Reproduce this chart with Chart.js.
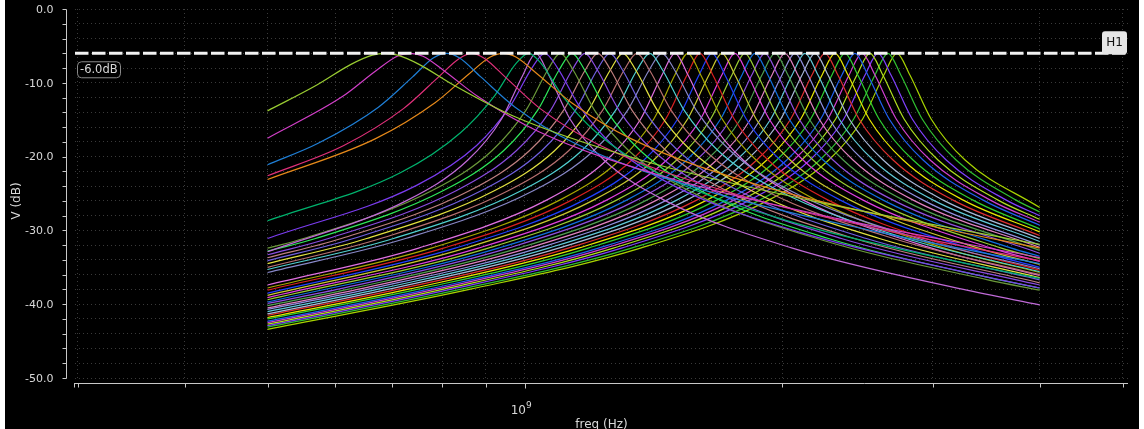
<!DOCTYPE html>
<html>
<head>
<meta charset="utf-8">
<script src="https://cdn.jsdelivr.net/npm/chart.js@4.4.1/dist/chart.umd.min.js"></script>
<style>
  body { margin: 0; background: #fff; }
  #wave { position: absolute; left: 5px; top: 0; }
</style>
</head>
<body>
<canvas id="wave" width="1134" height="429"></canvas>
<script>
// axis ranges / ticks
const xMinHz = 2.977e8;
const xMaxHz = 5.074e9;
const xGridHz = [3e8, 4e8, 5e8, 6e8, 7e8, 8e8, 9e8, 1e9, 2e9, 3e9, 4e9, 5e9];
const xLabelHz = 1e9;
const yMinDb = -50;
const yMaxDb = 0;
const markerDb = -6.0;
const markerName = 'H1';

// traces: [freq GHz, V dB]
const traces = [
  [[0.5,-13.8],[0.571,-10.3],[0.626,-7.5],[0.663,-6.25],[0.686,-6],[0.710,-6.25],[0.752,-7.5],[0.825,-10.3],[0.969,-14.5],[1.369,-20.5],[2.169,-26.0],[4,-31.9]],
  [[0.5,-17.5],[0.611,-11.9],[0.669,-8.4],[0.709,-6.4],[0.734,-6],[0.760,-6.4],[0.805,-8.4],[0.882,-11.9],[1.037,-16.6],[1.464,-22.8],[2.321,-28.4],[4,-33.7]],
  [[0.5,-21.1],[0.573,-18.2],[0.674,-13.3],[0.739,-9.2],[0.782,-6.6],[0.81,-6],[0.838,-6.6],[0.888,-9.2],[0.974,-13.3],[1.144,-18.2],[1.616,-24.5],[2.561,-30.1],[4,-34.5]],
  [[0.5,-22.6],[0.614,-18.5],[0.721,-13.5],[0.791,-9.3],[0.838,-6.7],[0.867,-6],[0.897,-6.7],[0.950,-9.3],[1.042,-13.5],[1.225,-18.5],[1.730,-24.8],[2.742,-30.4],[4,-34.1]],
  [[0.5,-23.1],[0.668,-17.6],[0.785,-12.7],[0.860,-8.8],[0.911,-6.5],[0.943,-6],[0.976,-6.5],[1.034,-8.8],[1.134,-12.7],[1.332,-17.6],[1.881,-23.9],[2.985,-29.4],[4,-32.4]],
  [[0.5,-28.7],[0.715,-22.2],[0.840,-16.8],[0.921,-11.8],[0.976,-7.4],[1.01,-6],[1.045,-7.4],[1.107,-11.8],[1.214,-16.8],[1.427,-22.2],[2.015,-28.6],[3.194,-34.2],[4,-36.5]],
  [[0.5,-32.9],[0.729,-25.9],[0.857,-20.5],[0.939,-14.9],[0.995,-8.9],[1.03,-6],[1.066,-8.9],[1.129,-14.9],[1.238,-20.5],[1.455,-25.9],[2.055,-32.4],[3.257,-38.0],[4,-40.1]],
  [[0.5,-31.1],[0.747,-23.9],[0.878,-18.5],[0.962,-13.1],[1.019,-8.0],[1.055,-6],[1.092,-8.0],[1.157,-13.1],[1.268,-18.5],[1.490,-23.9],[2.105,-30.3],[3.336,-35.9],[4,-37.8]],
  [[0.5,-32.4],[0.551,-31.1],[0.779,-24.6],[0.915,-19.2],[1.003,-13.7],[1.063,-8.3],[1.10,-6],[1.139,-8.3],[1.206,-13.7],[1.323,-19.2],[1.554,-24.6],[2.195,-31.1],[3.479,-36.7],[4,-38.1]],
  [[0.5,-32.8],[0.569,-31.1],[0.803,-24.6],[0.944,-19.2],[1.035,-13.7],[1.096,-8.3],[1.135,-6],[1.175,-8.3],[1.245,-13.7],[1.365,-19.2],[1.603,-24.6],[2.265,-31.1],[3.589,-36.7],[4,-37.8]],
  [[0.5,-33.3],[0.589,-31.1],[0.832,-24.6],[0.977,-19.2],[1.072,-13.7],[1.135,-8.3],[1.175,-6],[1.216,-8.3],[1.288,-13.7],[1.413,-19.2],[1.660,-24.6],[2.345,-31.1],[4,-37.4]],
  [[0.5,-33.7],[0.610,-31.1],[0.862,-24.6],[1.012,-19.2],[1.110,-13.7],[1.176,-8.3],[1.217,-6],[1.260,-8.3],[1.334,-13.7],[1.463,-19.2],[1.719,-24.6],[2.428,-31.1],[4,-37.1]],
  [[0.5,-34.1],[0.630,-31.1],[0.890,-24.6],[1.046,-19.2],[1.146,-13.7],[1.214,-8.3],[1.257,-6],[1.301,-8.3],[1.378,-13.7],[1.511,-19.2],[1.776,-24.6],[2.508,-31.1],[4,-36.7]],
  [[0.5,-34.5],[0.653,-31.1],[0.922,-24.6],[1.083,-19.2],[1.187,-13.7],[1.258,-8.3],[1.302,-6],[1.348,-8.3],[1.428,-13.7],[1.565,-19.2],[1.839,-24.6],[2.598,-31.1],[4,-36.4]],
  [[0.5,-35.0],[0.678,-31.1],[0.957,-24.6],[1.125,-19.2],[1.233,-13.7],[1.306,-8.3],[1.352,-6],[1.399,-8.3],[1.482,-13.7],[1.625,-19.2],[1.910,-24.6],[2.698,-31.1],[4,-36.0]],
  [[0.5,-35.3],[0.702,-31.1],[0.991,-24.6],[1.165,-19.2],[1.277,-13.7],[1.352,-8.3],[1.40,-6],[1.449,-8.3],[1.535,-13.7],[1.683,-19.2],[1.978,-24.6],[2.793,-31.1],[4,-35.6]],
  [[0.5,-35.7],[0.725,-31.1],[1.024,-24.6],[1.203,-19.2],[1.319,-13.7],[1.397,-8.3],[1.446,-6],[1.497,-8.3],[1.586,-13.7],[1.739,-19.2],[2.042,-24.6],[2.885,-31.1],[4,-35.2]],
  [[0.5,-37.4],[0.751,-32.4],[1.060,-25.9],[1.246,-20.5],[1.366,-14.9],[1.447,-8.9],[1.498,-6],[1.551,-8.9],[1.643,-14.9],[1.801,-20.5],[2.116,-25.9],[2.989,-32.4],[4,-36.1]],
  [[0.5,-37.8],[0.777,-32.4],[1.098,-25.9],[1.290,-20.5],[1.415,-14.9],[1.498,-8.9],[1.551,-6],[1.605,-8.9],[1.701,-14.9],[1.865,-20.5],[2.191,-25.9],[3.095,-32.4],[4,-35.7]],
  [[0.5,-38.1],[0.803,-32.4],[1.134,-25.9],[1.333,-20.5],[1.461,-14.9],[1.548,-8.9],[1.602,-6],[1.658,-8.9],[1.757,-14.9],[1.926,-20.5],[2.263,-25.9],[3.196,-32.4],[4,-35.4]],
  [[0.5,-38.5],[0.829,-32.4],[1.172,-25.9],[1.377,-20.5],[1.509,-14.9],[1.599,-8.9],[1.655,-6],[1.713,-8.9],[1.815,-14.9],[1.990,-20.5],[2.338,-25.9],[3.302,-32.4],[4,-35.0]],
  [[0.5,-38.8],[0.852,-32.4],[1.203,-25.9],[1.414,-20.5],[1.550,-14.9],[1.642,-8.9],[1.70,-6],[1.760,-8.9],[1.864,-14.9],[2.044,-20.5],[2.401,-25.9],[3.392,-32.4],[4,-34.6]],
  [[0.5,-39.1],[0.882,-32.4],[1.246,-25.9],[1.464,-20.5],[1.605,-14.9],[1.700,-8.9],[1.76,-6],[1.822,-8.9],[1.930,-14.9],[2.116,-20.5],[2.486,-25.9],[3.512,-32.4],[4,-34.2]],
  [[0.5,-39.4],[0.906,-32.4],[1.280,-25.9],[1.504,-20.5],[1.649,-14.9],[1.747,-8.9],[1.808,-6],[1.871,-8.9],[1.982,-14.9],[2.174,-20.5],[2.554,-25.9],[3.608,-32.4],[4,-33.8]],
  [[0.5,-39.7],[0.931,-32.4],[1.315,-25.9],[1.545,-20.5],[1.694,-14.9],[1.795,-8.9],[1.858,-6],[1.923,-8.9],[2.037,-14.9],[2.234,-20.5],[2.624,-25.9],[3.707,-32.4],[4,-33.5]],
  [[0.5,-39.9],[0.603,-38.0],[0.956,-32.4],[1.351,-25.9],[1.587,-20.5],[1.740,-14.9],[1.843,-8.9],[1.908,-6],[1.975,-8.9],[2.092,-14.9],[2.294,-20.5],[2.695,-25.9],[4,-33.1]],
  [[0.5,-40.2],[0.620,-38.0],[0.983,-32.4],[1.388,-25.9],[1.631,-20.5],[1.788,-14.9],[1.894,-8.9],[1.961,-6],[2.030,-8.9],[2.150,-14.9],[2.358,-20.5],[2.770,-25.9],[4,-32.7]],
  [[0.5,-40.5],[0.637,-38.0],[1.009,-32.4],[1.426,-25.9],[1.675,-20.5],[1.837,-14.9],[1.946,-8.9],[2.014,-6],[2.085,-8.9],[2.208,-14.9],[2.421,-20.5],[2.845,-25.9],[4,-32.3]],
  [[0.5,-40.7],[0.654,-38.0],[1.037,-32.4],[1.465,-25.9],[1.721,-20.5],[1.887,-14.9],[1.999,-8.9],[2.069,-6],[2.142,-8.9],[2.269,-14.9],[2.488,-20.5],[2.922,-25.9],[4,-32.0]],
  [[0.5,-41.0],[0.672,-38.0],[1.066,-32.4],[1.505,-25.9],[1.768,-20.5],[1.939,-14.9],[2.054,-8.9],[2.126,-6],[2.201,-8.9],[2.331,-14.9],[2.556,-20.5],[3.003,-25.9],[4,-31.5]],
  [[0.5,-41.3],[0.691,-38.0],[1.095,-32.4],[1.546,-25.9],[1.817,-20.5],[1.992,-14.9],[2.110,-8.9],[2.184,-6],[2.261,-8.9],[2.395,-14.9],[2.626,-20.5],[3.085,-25.9],[4,-31.1]],
  [[0.5,-41.5],[0.709,-38.0],[1.124,-32.4],[1.588,-25.9],[1.866,-20.5],[2.046,-14.9],[2.167,-8.9],[2.243,-6],[2.322,-8.9],[2.459,-14.9],[2.697,-20.5],[3.168,-25.9],[4,-30.7]],
  [[0.5,-41.8],[0.729,-38.0],[1.155,-32.4],[1.632,-25.9],[1.917,-20.5],[2.102,-14.9],[2.227,-8.9],[2.305,-6],[2.386,-8.9],[2.527,-14.9],[2.771,-20.5],[3.256,-25.9],[4,-30.2]],
  [[0.5,-42.0],[0.748,-38.0],[1.186,-32.4],[1.676,-25.9],[1.969,-20.5],[2.159,-14.9],[2.287,-8.9],[2.367,-6],[2.450,-8.9],[2.595,-14.9],[2.846,-20.5],[3.343,-25.9],[4,-29.8]],
  [[0.5,-42.3],[0.769,-38.0],[1.219,-32.4],[1.722,-25.9],[2.023,-20.5],[2.218,-14.9],[2.349,-8.9],[2.432,-6],[2.517,-8.9],[2.667,-14.9],[2.924,-20.5],[3.435,-25.9],[4,-29.3]],
  [[0.5,-42.5],[0.784,-38.0],[1.242,-32.4],[1.755,-25.9],[2.062,-20.5],[2.261,-14.9],[2.395,-8.9],[2.479,-6],[2.566,-8.9],[2.718,-14.9],[2.980,-20.5],[3.502,-25.9],[4,-28.9]],
  [[0.5,-42.7],[0.801,-38.0],[1.269,-32.4],[1.792,-25.9],[2.106,-20.5],[2.309,-14.9],[2.446,-8.9],[2.532,-6],[2.621,-8.9],[2.776,-14.9],[3.044,-20.5],[3.576,-25.9],[4,-28.5]],
  [[0.5,-42.9],[0.818,-38.0],[1.297,-32.4],[1.832,-25.9],[2.153,-20.5],[2.360,-14.9],[2.500,-8.9],[2.588,-6],[2.679,-8.9],[2.838,-14.9],[3.112,-20.5],[3.656,-25.9],[4,-28.0]],
  [[0.5,-43.1],[0.840,-38.0],[1.332,-32.4],[1.882,-25.9],[2.211,-20.5],[2.424,-14.9],[2.568,-8.9],[2.658,-6],[2.751,-8.9],[2.915,-14.9],[3.196,-20.5],[3.754,-25.9],[4,-27.5]],
  [[0.5,-43.4],[0.861,-38.0],[1.365,-32.4],[1.928,-25.9],[2.265,-20.5],[2.483,-14.9],[2.630,-8.9],[2.723,-6],[2.819,-8.9],[2.986,-14.9],[3.274,-20.5],[4,-26.9]]
];

const traceColors = [
  '#9acd32', '#d23fc8', '#1f7fd6', '#e0307a', '#e6891a', '#00b36e', '#c06ad8', '#7b3cf0',
  '#6b9a3a', '#2ee85a', '#8a4ce0', '#c08080', '#7060e0', '#e0e040', '#b87070', '#50d0d0',
  '#8888c8', '#e070e0', '#a8a800', '#d82020', '#2040ff', '#c8c830', '#e040e0', '#9acd32',
  '#1070e0', '#9050e0', '#50a050', '#e080c0', '#9090e0', '#60c8d8', '#a8b8d8', '#e03030',
  '#e8e800', '#30d030', '#2060f0', '#d040d0', '#b0e020', '#8040ff', '#30c030', '#a8d400'
];

const datasets = traces.map((t, i) => ({
  data: t.map(p => ({x: p[0] * 1e9, y: p[1]})),
  borderColor: traceColors[i],
  borderWidth: 1.2,
  pointRadius: 0,
  cubicInterpolationMode: 'monotone',
  order: 1
}));

// horizontal marker H1
datasets.push({
  data: [{x: xMinHz, y: markerDb}, {x: xMaxHz, y: markerDb}],
  borderColor: '#f2f2f2',
  borderWidth: 3,
  borderDash: [13.5, 3.5],
  pointRadius: 0,
  order: -1
});

const FONT = '"DejaVu Sans", sans-serif';
const AXIS = '#c8c8c8';
const TEXT = '#d8d8d8';

function roundRect(c, x, y, w, h, r) {
  c.beginPath();
  c.moveTo(x + r, y);
  c.arcTo(x + w, y, x + w, y + h, r);
  c.arcTo(x + w, y + h, x, y + h, r);
  c.arcTo(x, y + h, x, y, r);
  c.arcTo(x, y, x + w, y, r);
  c.closePath();
}

const frame = {
  id: 'frame',
  beforeDraw(chart) {
    const c = chart.ctx;
    c.save();
    c.fillStyle = '#000';
    c.fillRect(0, 0, chart.width, chart.height);
    c.restore();
  },
  afterDraw(chart) {
    const c = chart.ctx;
    const a = chart.chartArea;
    const x = chart.scales.x, y = chart.scales.y;
    c.save();
    c.strokeStyle = AXIS;
    c.lineWidth = 1;

    // y axis
    const ax = Math.round(a.left - 9) + 0.5;
    c.beginPath();
    c.moveTo(ax, Math.round(y.getPixelForValue(yMaxDb)) + 0.5);
    c.lineTo(ax, Math.round(y.getPixelForValue(yMinDb)) + 0.5);
    y.ticks.forEach(t => {
      const py = Math.round(y.getPixelForValue(t.value)) + 0.5;
      c.moveTo(ax - 4, py);
      c.lineTo(ax, py);
    });
    c.stroke();
    c.fillStyle = TEXT;
    c.font = '11px ' + FONT;
    c.textAlign = 'right';
    c.textBaseline = 'middle';
    y.ticks.forEach(t => {
      if (t.value % 10 === 0) c.fillText(t.value.toFixed(1), ax - 13, y.getPixelForValue(t.value) + 1);
    });

    // x axis
    const ay = Math.round(a.bottom + 5) + 0.5;
    c.beginPath();
    c.moveTo(a.left - 1, ay);
    c.lineTo(a.right, ay);
    c.moveTo(a.left - 0.5, ay);
    c.lineTo(a.left - 0.5, ay + 4);
    x.ticks.forEach(t => {
      const px = Math.round(x.getPixelForValue(t.value)) + 0.5;
      c.moveTo(px, ay);
      c.lineTo(px, ay + (t.value === xLabelHz ? 5 : 4));
    });
    c.stroke();

    const lx = x.getPixelForValue(xLabelHz);
    c.textBaseline = 'alphabetic';
    c.font = '12px ' + FONT;
    c.textAlign = 'right';
    c.fillText('10', lx + 1, ay + 30);
    c.font = '9px ' + FONT;
    c.textAlign = 'left';
    c.fillText('9', lx + 1, ay + 24);

    c.font = '12px ' + FONT;
    c.textAlign = 'center';
    c.fillText('freq (Hz)', (a.left + a.right) / 2, 428);

    c.save();
    c.translate(12, 201);
    c.rotate(-Math.PI / 2);
    c.textBaseline = 'middle';
    c.fillText('V (dB)', 0, 0);
    c.restore();

    // marker labels
    const my = y.getPixelForValue(markerDb);
    c.font = '11.5px ' + FONT;
    roundRect(c, a.left + 2.5, my + 8.5, 43, 16, 4);
    c.fillStyle = '#000';
    c.fill();
    c.strokeStyle = '#8a8a8a';
    c.stroke();
    c.fillStyle = TEXT;
    c.textAlign = 'left';
    c.textBaseline = 'middle';
    c.fillText(markerDb.toFixed(1) + 'dB', a.left + 5, my + 17);

    roundRect(c, 1097, my - 22, 25, 23, 3);
    c.fillStyle = '#e6e6e6';
    c.fill();
    c.fillStyle = '#111';
    c.font = '12px ' + FONT;
    c.textAlign = 'center';
    c.fillText(markerName, 1109.5, my - 10);
    c.restore();
  }
};

new Chart(document.getElementById('wave'), {
  type: 'line',
  data: { datasets: datasets },
  options: {
    responsive: false,
    animation: false,
    events: [],
    layout: { padding: { left: 70, right: 11, top: 9, bottom: 51 } },
    scales: {
      x: {
        type: 'logarithmic',
        min: xMinHz,
        max: xMaxHz,
        afterBuildTicks: s => { s.ticks = xGridHz.map(v => ({value: v})); },
        ticks: { display: false },
        grid: { color: '#3a3a3a', drawTicks: false },
        border: { display: false, dash: [1, 3] }
      },
      y: {
        min: yMinDb,
        max: yMaxDb,
        ticks: { display: false, stepSize: 2 },
        grid: { color: '#3a3a3a', drawTicks: false },
        border: { display: false, dash: [1, 3] }
      }
    },
    plugins: {
      legend: { display: false },
      tooltip: { enabled: false }
    }
  },
  plugins: [frame]
});
</script>
</body>
</html>
